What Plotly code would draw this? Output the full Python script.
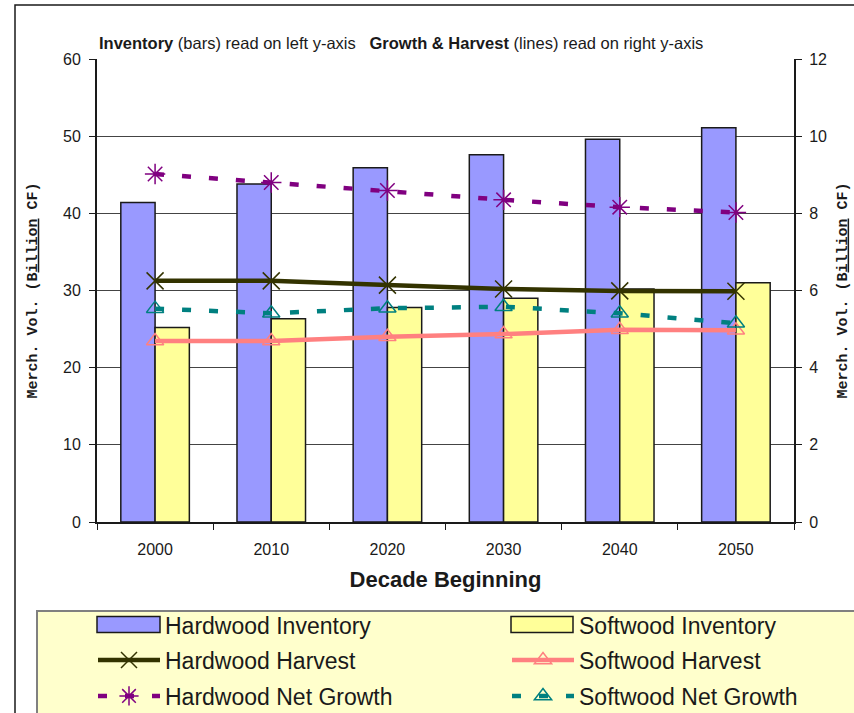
import plotly.graph_objects as go

decades = ["2000", "2010", "2020", "2030", "2040", "2050"]
hardwood_inventory = [41.4, 43.8, 45.9, 47.6, 49.6, 51.1]
softwood_inventory = [25.2, 26.35, 27.8, 29.0, 30.2, 31.0]
hardwood_harvest = [6.25, 6.25, 6.14, 6.04, 5.99, 5.98]
softwood_harvest = [4.69, 4.69, 4.80, 4.87, 4.98, 4.97]
hardwood_growth = [9.02, 8.80, 8.59, 8.35, 8.16, 8.02]
softwood_growth = [5.53, 5.41, 5.54, 5.58, 5.41, 5.15]

left_ticks = [0, 10, 20, 30, 40, 50, 60]
right_ticks = [0, 2, 4, 6, 8, 10, 12]

FONT = "Liberation Sans, Arial, sans-serif"
MONO = "Liberation Mono, Courier New, monospace"

HW_BAR = "#9999FF"
SW_BAR = "#FFFF99"

W, H = 854, 713
L, R, T, B = 97, 60, 59, 191
PW, PH = W - L - R, H - T - B


def px_x(x):
    return (x - L) / PW


def px_y(y):
    return (H - B - y) / PH


fig = go.Figure()

fig.add_trace(go.Bar(
    x=decades, y=hardwood_inventory, name="Hardwood Inventory", showlegend=False,
    marker=dict(color=HW_BAR, line=dict(color="#1a1a1a", width=1.5)),
    offsetgroup="hw"))
fig.add_trace(go.Bar(
    x=decades, y=softwood_inventory, name="Softwood Inventory", showlegend=False,
    marker=dict(color=SW_BAR, line=dict(color="#1a1a1a", width=1.5)),
    offsetgroup="sw"))
# legend entries for the bars (symbol drawn as a wide rectangle shape below)
fig.add_trace(go.Scatter(
    x=[None], y=[None], name="Hardwood Inventory", mode="lines",
    line=dict(color="rgba(0,0,0,0)", width=1), legend="legend", hoverinfo="skip"))
fig.add_trace(go.Scatter(
    x=[None], y=[None], name="Softwood Inventory", mode="lines",
    line=dict(color="rgba(0,0,0,0)", width=1), legend="legend2", hoverinfo="skip"))

fig.add_trace(go.Scatter(
    x=decades, y=hardwood_harvest, name="Hardwood Harvest", yaxis="y2",
    mode="lines+markers", line=dict(color="#333300", width=4.5),
    marker=dict(symbol="x-thin-open", size=17, color="#333300",
                line=dict(color="#333300", width=1.5)),
    legend="legend3"))
fig.add_trace(go.Scatter(
    x=decades, y=softwood_harvest, name="Softwood Harvest", yaxis="y2",
    mode="lines+markers", line=dict(color="#FF8080", width=4.5),
    marker=dict(symbol="triangle-up-open", size=15, color="#FF8080",
                line=dict(color="#FF8080", width=1.5)),
    legend="legend4"))
fig.add_trace(go.Scatter(
    x=decades, y=hardwood_growth, name="Hardwood Net Growth", yaxis="y2",
    mode="lines+markers", line=dict(color="#800080", width=4.5, dash="9px,18px"),
    marker=dict(symbol="asterisk-open", size=17, color="#800080",
                line=dict(color="#800080", width=1.5)),
    legend="legend5"))
fig.add_trace(go.Scatter(
    x=decades, y=softwood_growth, name="Softwood Net Growth", yaxis="y2",
    mode="lines+markers", line=dict(color="#008080", width=4.5, dash="9px,18px"),
    marker=dict(symbol="triangle-up-open", size=15, color="#008080",
                line=dict(color="#008080", width=1.5)),
    legend="legend6"))

legend_common = dict(bgcolor="rgba(0,0,0,0)", borderwidth=0, itemwidth=62,
                     font=dict(family=FONT, size=23, color="#1a1a1a"),
                     xanchor="left", yanchor="middle", orientation="h",
                     itemclick=False, itemdoubleclick=False)
col_x = [px_x(93), px_x(507)]
row_y = [px_y(625), px_y(660), px_y(696)]
legends = {}
for i in range(6):
    key = "legend" if i == 0 else f"legend{i + 1}"
    legends[key] = dict(legend_common, x=col_x[i % 2], y=row_y[i // 2])

title_y = "<b>Merch. Vol. (B<span style='text-decoration:underline'>illion</span> CF)</b>"

fig.update_layout(
    width=W, height=H,
    margin=dict(l=L, r=R, t=T, b=B, autoexpand=False),
    paper_bgcolor="white", plot_bgcolor="white",
    showlegend=True,
    barmode="group", bargap=0.41, bargroupgap=0,
    font=dict(family=FONT, size=16, color="#1a1a1a"),
    xaxis=dict(
        type="category", tickson="boundaries", ticks="outside", ticklen=6,
        tickcolor="#1a1a1a", showline=True, linecolor="#1a1a1a", linewidth=1.5,
        tickfont=dict(family=FONT, size=16), ticklabelstandoff=12,
        title=dict(text="<b>Decade Beginning</b>", font=dict(family=FONT, size=22),
                   standoff=15),
        showgrid=False),
    yaxis=dict(
        range=[0, 60], tickvals=left_ticks, ticks="outside", ticklen=6,
        tickcolor="#1a1a1a", showline=True, linecolor="#1a1a1a", linewidth=2,
        showgrid=True, gridcolor="#444444", gridwidth=1, zeroline=False,
        tickfont=dict(family=FONT, size=16), ticklabelstandoff=5,
        title=dict(text=title_y, font=dict(family=MONO, size=15), standoff=22)),
    yaxis2=dict(
        range=[0, 12], tickvals=right_ticks, overlaying="y", side="right",
        ticks="outside", ticklen=6, tickcolor="#1a1a1a",
        showline=True, linecolor="#1a1a1a", linewidth=2, showgrid=False,
        zeroline=False, tickfont=dict(family=FONT, size=16), ticklabelstandoff=4,
        title=dict(text=title_y, font=dict(family=MONO, size=15), standoff=10)),
    annotations=[dict(
        text="<b>Inventory</b> (bars) read on left y-axis   <b>Growth & Harvest</b> (lines) read on right y-axis",
        xref="paper", yref="paper", x=px_x(97), y=px_y(43), xanchor="left",
        yanchor="middle", showarrow=False, font=dict(family=FONT, size=16.5, color="#1a1a1a"))],
    shapes=[
        dict(type="rect", xref="paper", yref="paper", layer="below",
             x0=px_x(37), x1=px_x(920), y0=px_y(611), y1=px_y(780),
             fillcolor="#FFFFCC", line=dict(color="#808080", width=2)),
        dict(type="rect", xref="paper", yref="paper", layer="below",
             x0=px_x(15), x1=px_x(920), y0=px_y(5), y1=px_y(780),
             fillcolor="rgba(0,0,0,0)", line=dict(color="#1a1a1a", width=1.5)),
        dict(type="rect", xref="paper", yref="paper", layer="above",
             x0=px_x(97), x1=px_x(160), y0=px_y(616.5), y1=px_y(632.5),
             fillcolor=HW_BAR, line=dict(color="#1a1a1a", width=1.5)),
        dict(type="rect", xref="paper", yref="paper", layer="above",
             x0=px_x(511), x1=px_x(573), y0=px_y(616.5), y1=px_y(632.5),
             fillcolor=SW_BAR, line=dict(color="#1a1a1a", width=1.5)),
    ],
    **legends,
)

fig.write_html("out.html", config={"displayModeBar": False},
               post_script="document.body.style.margin='0px';")
